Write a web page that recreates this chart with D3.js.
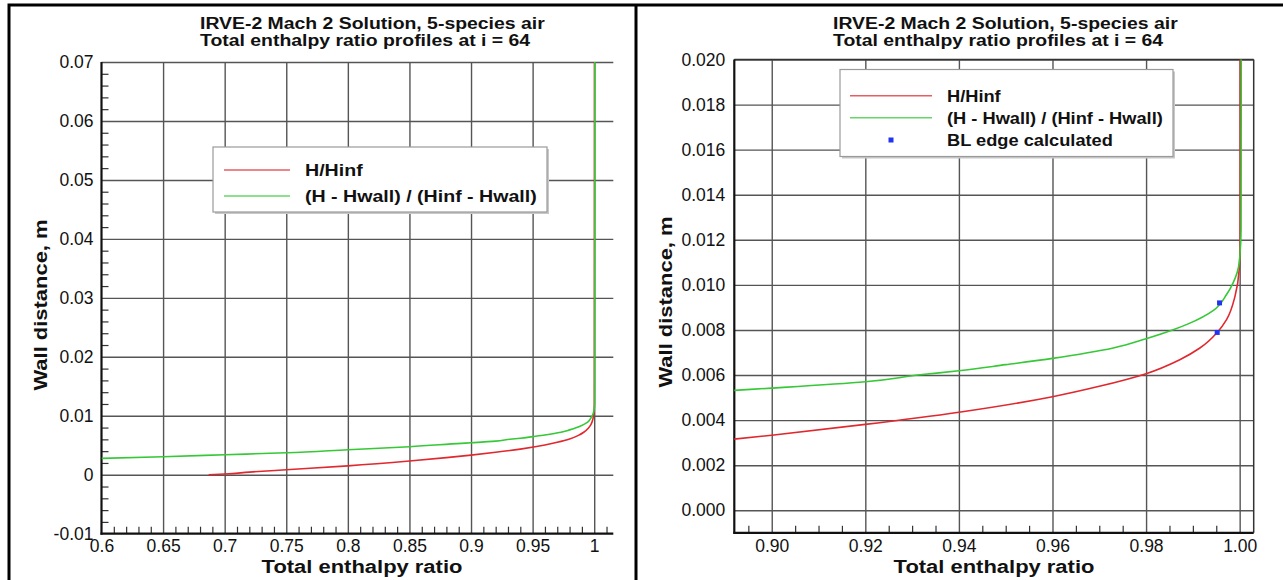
<!DOCTYPE html>
<html>
<head>
<meta charset="utf-8">
<script src="https://cdn.jsdelivr.net/npm/d3@7"></script>
<style>
  html, body { margin: 0; padding: 0; background: #fff; }
  svg { display: block; }
  text { font-family: "Liberation Sans", Arial, Helvetica, sans-serif; fill: #111; }
</style>
</head>
<body>
<svg id="fig" width="1283" height="580"></svg>
<script>
// ---- Profile data: total enthalpy ratio (x) against wall distance in metres (y) ----
// H / Hinf
const hRatioX = [0.687, 0.700, 0.720, 0.750, 0.800, 0.850, 0.880, 0.900, 0.920, 0.940,
                 0.960, 0.970, 0.980, 0.9872, 0.9915, 0.9952, 0.9972, 0.9990, 0.9999, 1.0001, 1.0002];
const hRatioY = [0.00000, 0.00012, 0.00045, 0.00085, 0.00150, 0.00232, 0.00290, 0.00333, 0.00381, 0.00435,
                 0.00504, 0.00550, 0.00606, 0.00668, 0.00720, 0.00789, 0.00846, 0.00949, 0.01068, 0.01200, 0.07000];
// (H - Hwall) / (Hinf - Hwall)
const hNormX = [0.600, 0.650, 0.700, 0.750, 0.800, 0.850, 0.892, 0.900, 0.920, 0.9317,
                0.940, 0.950, 0.960, 0.973, 0.980, 0.9858, 0.989, 0.9944, 0.9972, 0.9986,
                0.9999, 1.0003, 1.0005];
const hNormY = [0.00278, 0.00305, 0.00339, 0.00373, 0.00424, 0.00475, 0.00532, 0.00542, 0.00570, 0.00601,
                0.00619, 0.00646, 0.00674, 0.00720, 0.00761, 0.00801, 0.00827, 0.00887, 0.00957, 0.01009,
                0.01098, 0.01250, 0.07000];
// boundary-layer edge found on each profile
const blEdgeX = [0.9952, 0.9957];
const blEdgeY = [0.00789, 0.00920];

// ---- Text ----
const titleLines = ["IRVE-2 Mach 2 Solution, 5-species air", "Total enthalpy ratio profiles at i = 64"];
const xTitle = "Total enthalpy ratio";
const yTitle = "Wall distance, m";
const seriesNames = ["H/Hinf", "(H - Hwall) / (Hinf - Hwall)", "BL edge calculated"];

// ---- Tick values and labels ----
const fullXTicks  = [0.6, 0.65, 0.7, 0.75, 0.8, 0.85, 0.9, 0.95, 1];
const fullXLabels = ["0.6", "0.65", "0.7", "0.75", "0.8", "0.85", "0.9", "0.95", "1"];
const fullYTicks  = [-0.01, 0, 0.01, 0.02, 0.03, 0.04, 0.05, 0.06, 0.07];
const fullYLabels = ["-0.01", "0", "0.01", "0.02", "0.03", "0.04", "0.05", "0.06", "0.07"];
const zoomXTicks  = [0.90, 0.92, 0.94, 0.96, 0.98, 1.00];
const zoomXLabels = ["0.90", "0.92", "0.94", "0.96", "0.98", "1.00"];
const zoomYTicks  = [0.000, 0.002, 0.004, 0.006, 0.008, 0.010, 0.012, 0.014, 0.016, 0.018, 0.020];
const zoomYLabels = ["0.000", "0.002", "0.004", "0.006", "0.008", "0.010", "0.012", "0.014", "0.016", "0.018", "0.020"];

const RED = "#e0282e";
const GREEN = "#36c836";
const BLUE = "#2233f2";
const GRID = "#555";

const svg = d3.select("#fig");
const defs = svg.append("defs");

const hRatio = hRatioX.map((v, i) => [v, hRatioY[i]]);
const hNorm = hNormX.map((v, i) => [v, hNormY[i]]);
const blEdge = blEdgeX.map((v, i) => [v, blEdgeY[i]]);

// stretch a text element horizontally so it spans the given width
function stretchTo(sel, width) {
  const w = sel.node().getComputedTextLength();
  return w > 0 ? width / w : 1;
}

function drawPanel(o) {
  const g = svg.append("g");
  const x = d3.scaleLinear().domain(o.xDomain).range(o.xRange);
  const y = d3.scaleLinear().domain(o.yDomain).range(o.yRange);
  const [L, R] = o.xRange;
  const [B, T] = o.yRange;

  defs.append("clipPath").attr("id", o.id + "-clip")
    .append("rect").attr("x", L).attr("y", T).attr("width", R - L).attr("height", B - T);

  // grid lines at the major ticks
  g.append("g").attr("transform", `translate(0,${B})`)
    .call(d3.axisBottom(x).tickValues(o.xGrid).tickSize(-(B - T)).tickFormat(""))
    .call(a => { a.select(".domain").remove();
                 a.selectAll("line").attr("stroke", GRID).attr("stroke-width", 1.4); });
  g.append("g").attr("transform", `translate(${L},0)`)
    .call(d3.axisLeft(y).tickValues(o.yGrid).tickSize(-(R - L)).tickFormat(""))
    .call(a => { a.select(".domain").remove();
                 a.selectAll("line").attr("stroke", GRID).attr("stroke-width", 1.4); });

  // minor ticks pointing into the plot
  if (o.xMinor) {
    g.append("g").attr("transform", `translate(0,${B})`)
      .call(d3.axisBottom(x).tickValues(o.xMinor).tickSize(-7).tickFormat(""))
      .call(a => { a.select(".domain").remove();
                   a.selectAll("line").attr("stroke", "#333").attr("stroke-width", 1.2); });
  }
  if (o.yMinor) {
    g.append("g").attr("transform", `translate(${L},0)`)
      .call(d3.axisLeft(y).tickValues(o.yMinor).tickSize(-7).tickFormat(""))
      .call(a => { a.select(".domain").remove();
                   a.selectAll("line").attr("stroke", "#333").attr("stroke-width", 1.2); });
  }

  // frame
  if (o.fullFrame) {
    g.append("line").attr("x1", L).attr("x2", R).attr("y1", T).attr("y2", T)
      .attr("stroke", "#333").attr("stroke-width", 1.5);
    g.append("line").attr("x1", R).attr("x2", R).attr("y1", T).attr("y2", B)
      .attr("stroke", "#333").attr("stroke-width", 1.5);
  }
  g.append("line").attr("x1", L).attr("x2", L).attr("y1", T).attr("y2", B + 1)
    .attr("stroke", "#111").attr("stroke-width", 2.2);
  g.append("line").attr("x1", L - 1).attr("x2", R).attr("y1", B).attr("y2", B)
    .attr("stroke", "#111").attr("stroke-width", 2.2);

  // tick labels
  g.append("g").attr("transform", `translate(0,${B})`)
    .call(d3.axisBottom(x).tickValues(o.xTicks).tickSize(0).tickPadding(o.xPad)
      .tickFormat((d, i) => o.xLabels[i]))
    .call(a => { a.select(".domain").remove();
                 a.selectAll("text").attr("font-size", 17.5).attr("fill", "#111")
                   .attr("font-family", "Liberation Sans, Arial, sans-serif"); });
  g.append("g").attr("transform", `translate(${L},0)`)
    .call(d3.axisLeft(y).tickValues(o.yTicks).tickSize(0).tickPadding(o.yPad)
      .tickFormat((d, i) => o.yLabels[i]))
    .call(a => { a.select(".domain").remove();
                 a.selectAll("text").attr("font-size", 17.5).attr("fill", "#111")
                   .attr("font-family", "Liberation Sans, Arial, sans-serif"); });

  // profiles
  const line = d3.line().x(d => x(d[0])).y(d => y(d[1])).curve(d3.curveMonotoneY);
  const curves = g.append("g").attr("clip-path", `url(#${o.id}-clip)`);
  curves.append("path").datum(hRatio).attr("d", line)
    .attr("fill", "none").attr("stroke", RED).attr("stroke-width", 1.6);
  curves.append("path").datum(hNorm).attr("d", line)
    .attr("fill", "none").attr("stroke", GREEN).attr("stroke-width", 1.6);
  if (o.showEdge) {
    curves.selectAll("rect.edge").data(blEdge).join("rect").attr("class", "edge")
      .attr("x", d => x(d[0]) - 2.5).attr("y", d => y(d[1]) - 2.5)
      .attr("width", 5).attr("height", 5).attr("fill", BLUE);
  }

  // title block (left aligned lines)
  const t1 = g.append("text").attr("font-weight", "bold").attr("font-size", 17).text(titleLines[0]);
  const sx = stretchTo(t1, 345);
  t1.attr("transform", `translate(${o.titleX},29) scale(${sx},1)`);
  g.append("text").attr("font-weight", "bold").attr("font-size", 17).text(titleLines[1])
    .attr("transform", `translate(${o.titleX},46) scale(${sx},1)`);

  // axis titles
  const xt = g.append("text").attr("font-weight", "bold").attr("font-size", 19)
    .attr("text-anchor", "middle").text(xTitle);
  const sxt = stretchTo(xt, 201);
  xt.attr("transform", `translate(${o.xTitleX},573) scale(${sxt},1)`);
  g.append("text").attr("font-weight", "bold").attr("font-size", 19)
    .attr("text-anchor", "middle").text(yTitle)
    .attr("transform", `translate(${o.yTitleX},${o.yTitleY}) rotate(-90) scale(${sxt},1)`);

  // legend
  const lg = o.legend;
  const leg = g.append("g");
  leg.append("rect").attr("x", lg.x + 2).attr("y", lg.y + 2).attr("width", lg.w).attr("height", lg.h)
    .attr("fill", "#c8c8c8");
  leg.append("rect").attr("x", lg.x).attr("y", lg.y).attr("width", lg.w).attr("height", lg.h)
    .attr("fill", "#fff").attr("stroke", "#9a9a9a").attr("stroke-width", 1.2);
  const entries = lg.rows.map((ry, i) => ({ ry, i }));
  const labels = leg.selectAll("text.lab").data(entries).join("text").attr("class", "lab")
    .attr("font-weight", "bold").attr("font-size", 17).text(d => seriesNames[d.i]);
  const lsx = stretchTo(labels.filter(d => d.i === 1), lg.longWidth);
  labels.attr("transform", d => `translate(${lg.textX},${d.ry + 6}) scale(${lsx},1)`);
  entries.forEach(d => {
    if (d.i < 2) {
      leg.append("line").attr("x1", lg.lineX0).attr("x2", lg.lineX1)
        .attr("y1", d.ry).attr("y2", d.ry)
        .attr("stroke", d.i === 0 ? RED : GREEN).attr("stroke-width", 1.6).attr("opacity", 0.75);
    } else {
      leg.append("rect").attr("x", (lg.lineX0 + lg.lineX1) / 2 - 2.5).attr("y", d.ry - 2.5)
        .attr("width", 5).attr("height", 5).attr("fill", BLUE);
    }
  });
}

// full profile
drawPanel({
  id: "full",
  xDomain: [0.6, 1.0155], xRange: [101.5, 613.3],
  yDomain: [-0.01, 0.07], yRange: [533.7, 62],
  xGrid: fullXTicks.slice(1), yGrid: fullYTicks.slice(1),
  xMinor: d3.range(61, 102).map(v => v / 100).filter(v => Math.round(v * 100) % 5 !== 0),
  yMinor: d3.range(-5, 35).map(v => v / 500).filter(v => Math.round(v * 500) % 5 !== 0),
  xTicks: fullXTicks, xLabels: fullXLabels, yTicks: fullYTicks, yLabels: fullYLabels,
  xPad: 6, yPad: 8,
  fullFrame: false, showEdge: false,
  titleX: 200, xTitleX: 362, yTitleX: 47, yTitleY: 305,
  legend: { x: 213, y: 147, w: 334, h: 65, rows: [170, 196],
            lineX0: 224, lineX1: 290, textX: 305, longWidth: 232 }
});

// close-up near the boundary-layer edge
drawPanel({
  id: "zoom",
  xDomain: [0.892, 1.003], xRange: [734.3, 1253.7],
  yDomain: [-0.001, 0.020], yRange: [532.8, 59.5],
  xGrid: zoomXTicks, yGrid: zoomYTicks,
  xMinor: d3.range(179, 201).map(v => v / 200).filter(v => Math.round(v * 200) % 4 !== 0),
  yMinor: null,
  xTicks: zoomXTicks, xLabels: zoomXLabels, yTicks: zoomYTicks, yLabels: zoomYLabels,
  xPad: 7, yPad: 9,
  fullFrame: true, showEdge: true,
  titleX: 833, xTitleX: 994, yTitleX: 672, yTitleY: 302,
  legend: { x: 840, y: 69.5, w: 333, h: 87, rows: [95.7, 117.7, 140],
            lineX0: 850, lineX1: 932, textX: 947, longWidth: 216 }
});

// outer frame and divider
svg.append("path").attr("d", "M9,600 L9,5 L1290,5")
  .attr("fill", "none").attr("stroke", "#000").attr("stroke-width", 3);
svg.append("line").attr("x1", 636).attr("x2", 636).attr("y1", 5).attr("y2", 600)
  .attr("stroke", "#000").attr("stroke-width", 3);
</script>
</body>
</html>
